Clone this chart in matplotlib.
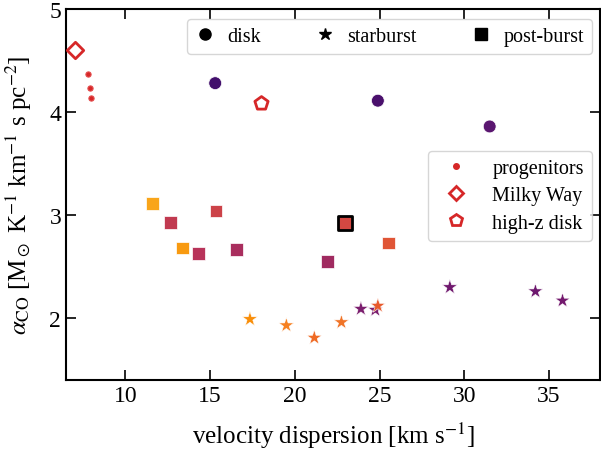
import matplotlib
matplotlib.use("Agg")
import matplotlib.pyplot as plt
from matplotlib.lines import Line2D

plt.rcParams['font.family'] = ['Liberation Serif', 'DejaVu Serif']
plt.rcParams['mathtext.fontset'] = 'stix'

# progenitors, Milky Way, high-z disk
prog_x = [7.8, 7.9, 7.95]
prog_y = [4.37, 4.23, 4.14]
mw_x, mw_y = 7.0, 4.60
hz_x, hz_y = 18.0, 4.09

# disk phase
disk_x = [15.3, 24.9, 31.5]
disk_y = [4.28, 4.11, 3.86]
disk_c = ['#420f6c', '#4a106c', '#5a1670']

# starburst phase
sb_x = [17.35, 19.5, 21.15, 22.75, 23.9, 24.75, 24.9, 29.15, 34.2, 35.8]
sb_y = [1.99, 1.93, 1.81, 1.96, 2.09, 2.08, 2.12, 2.30, 2.26, 2.17]
sb_c = ['#f98e09', '#f68020', '#ef6a24', '#f07428', '#7b1e6e', '#7a1d6d',
        '#e85a2c', '#70196e', '#6d186e', '#74196e']

# post-burst phase
pb_x = [11.6, 12.65, 15.35, 13.35, 14.3, 16.55, 21.95, 25.55]
pb_y = [3.11, 2.93, 3.04, 2.68, 2.63, 2.67, 2.55, 2.73]
pb_c = ['#f9a51a', '#c13a50', '#cc4248', '#f89a10', '#b8335a', '#a92e5e',
        '#a02a60', '#e05536']
hl_x, hl_y, hl_c = 22.95, 2.92, '#d44842'

fig = plt.figure(figsize=(6.01, 4.52), dpi=100)
ax = fig.add_axes([0.110, 0.157, 0.888, 0.821])

ax.scatter(prog_x, prog_y, s=14, color='#d62728', edgecolors='#e34a4a', linewidths=0.8, zorder=3)
ax.scatter([mw_x], [mw_y], s=70, marker='D', facecolors='white', edgecolors='#d62728',
           linewidths=2, zorder=3)
ax.scatter([hz_x], [hz_y], s=100, marker='p', facecolors='white', edgecolors='#d62728',
           linewidths=2, zorder=3)
ax.scatter(disk_x, disk_y, s=85, marker='o', c=disk_c, edgecolors='white', linewidths=0.5, zorder=3)
ax.scatter(sb_x, sb_y, s=130, marker='*', c=sb_c, edgecolors='white', linewidths=0.4, zorder=3)
ax.scatter(pb_x, pb_y, s=85, marker='s', c=pb_c, edgecolors='white', linewidths=0.5, zorder=3)
ax.scatter([hl_x], [hl_y], s=90, marker='s', c=hl_c, edgecolors='black', linewidths=2, zorder=4)

ax.set_xlim(6.5, 38)
ax.set_ylim(1.4, 5)
ax.set_xticks([10, 15, 20, 25, 30, 35])
ax.set_yticks([2, 3, 4, 5])
ax.tick_params(direction='in', top=True, right=True, length=7, width=1.2, labelsize=17)
for sp in ax.spines.values():
    sp.set_linewidth(1.5)

ax.set_xlabel(r'velocity dispersion [km s$^{-1}$]', fontsize=18, labelpad=10)
ax.set_ylabel(r'$\alpha_{\rm CO}$ [M$_\odot$ K$^{-1}$ km$^{-1}$ s pc$^{-2}$]', fontsize=18,
              labelpad=11)

h1 = [Line2D([], [], ls='none', marker='o', color='black', ms=8),
      Line2D([], [], ls='none', marker='*', color='black', ms=9),
      Line2D([], [], ls='none', marker='s', color='black', ms=8)]
leg1 = ax.legend(h1, ['disk', 'starburst', 'post-burst'], ncol=3, fontsize=14.5,
                 loc='upper right', bbox_to_anchor=(0.985, 0.973), borderaxespad=0,
                 handlelength=1.0, handletextpad=0.6, columnspacing=2.7)
ax.add_artist(leg1)

h2 = [Line2D([], [], ls='none', marker='o', color='#d62728', ms=4),
      Line2D([], [], ls='none', marker='D', mfc='white', mec='#d62728', mew=2, ms=7),
      Line2D([], [], ls='none', marker='p', mfc='white', mec='#d62728', mew=2, ms=9)]
ax.legend(h2, ['progenitors', 'Milky Way', 'high-z disk'], fontsize=14.5,
          loc='upper right', bbox_to_anchor=(0.985, 0.617), borderaxespad=0,
          handletextpad=0.8, labelspacing=0.4)

fig.savefig('out.png', dpi=100)
